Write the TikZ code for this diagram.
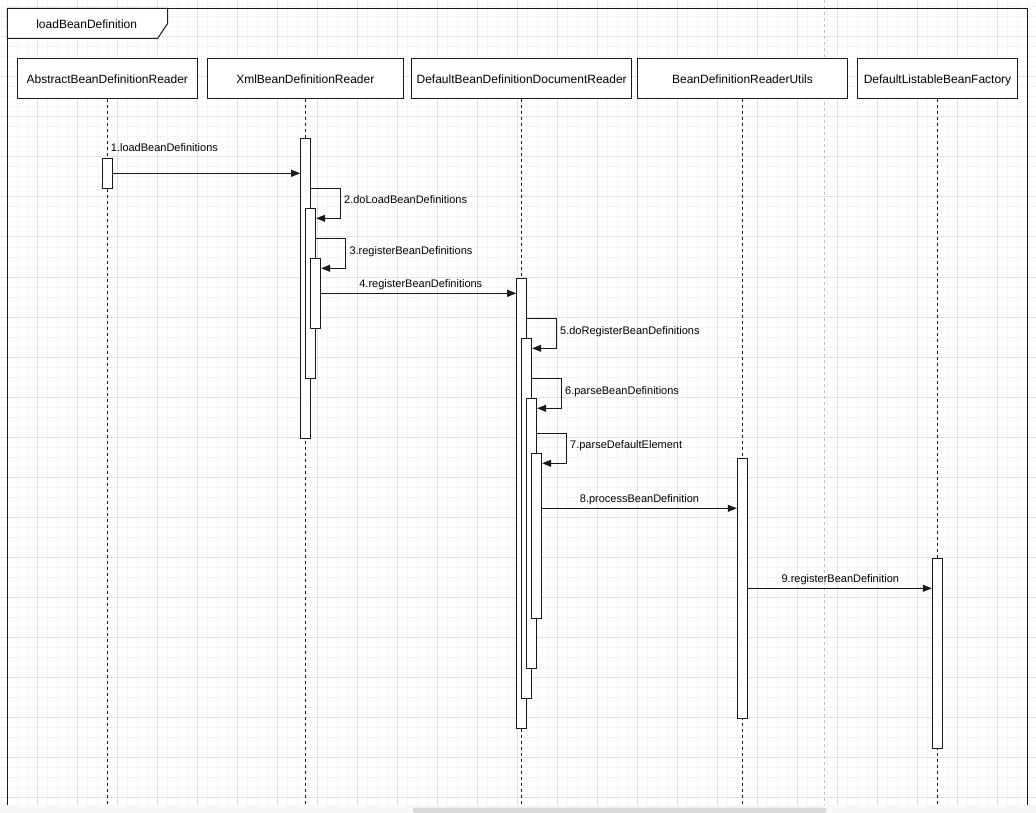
\documentclass[tikz,border=0pt]{standalone}
\usepackage{fontspec}
\setmainfont{Liberation Sans}
\usetikzlibrary{arrows.meta}
\definecolor{gridmaj}{HTML}{E2E2E2}
\definecolor{gridmin}{HTML}{F4F4F4}
\definecolor{pbreak}{HTML}{C0C0C0}
\definecolor{scrollbg}{HTML}{F8F8F8}
\definecolor{thumb}{HTML}{DADADA}
\definecolor{ink}{HTML}{1A1A1A}
\begin{document}
\begin{tikzpicture}[x=1pt,y=-1pt,
  part/.style={draw=ink, line width=1pt, fill=white, minimum height=40pt, inner sep=0pt,
    font=\fontsize{12}{14}\selectfont, text height=10pt, text depth=0pt},
  act/.style={draw=ink, line width=1pt, fill=white, minimum width=10pt, inner sep=0pt, anchor=north},
  life/.style={draw=ink, line width=1pt, dash pattern=on 3pt off 3pt},
  msg/.style={draw=ink, line width=1pt, -{Triangle[length=9pt,width=7pt]}},
  lbl/.style={font=\fontsize{11}{13}\selectfont, inner sep=0pt},
  minorline/.style={draw=gridmin, line width=1pt},
  majorline/.style={draw=gridmaj, line width=1pt},
]
\useasboundingbox (0,0) rectangle (1036,813);
\fill[white] (0,0) rectangle (1036,813);
% grid
\foreach \x in {7,17,...,1035} \draw[minorline] (\x,0) -- (\x,805);
\foreach \y in {7,17,...,804} \draw[minorline] (0,\y) -- (1036,\y);
\foreach \x in {37,77,...,1035} \draw[majorline] (\x,0) -- (\x,805);
\foreach \y in {37,77,...,804} \draw[majorline] (0,\y) -- (1036,\y);
% page break
\draw[pbreak, line width=1pt, dash pattern=on 3pt off 3pt] (824.3,0) -- (824.3,805);
% frame
\draw[ink, line width=1pt] (7.3,805) -- (7.3,8.3) -- (1027.7,8.3) -- (1027.7,805);
\draw[ink, line width=1pt, fill=white] (7.3,8.3) -- (167.7,8.3) -- (167.7,23.3) -- (157.7,38.3) -- (7.3,38.3) -- cycle;
\node[font=\fontsize{12}{14}\selectfont, inner sep=0pt, anchor=base] (frm) at (86.7,28.3) {loadBeanDefinition};
% participants
\node[part, minimum width=180pt] (p1) at (107.3,78.3) {AbstractBeanDefinitionReader};
\node[part, minimum width=196pt] (p2) at (305.3,78.3) {XmlBeanDefinitionReader};
\node[part, minimum width=220pt] (p3) at (521.7,78.3) {DefaultBeanDefinitionDocumentReader};
\node[part, minimum width=210pt] (p4) at (742.5,78.3) {BeanDefinitionReaderUtils};
\node[part, minimum width=160pt] (p5) at (937.5,78.3) {DefaultListableBeanFactory};
% lifelines
\draw[life] (p1.south) -- (p1.south |- 0,805);
\draw[life] (p2.south) -- (p2.south |- 0,805);
\draw[life] (p3.south) -- (p3.south |- 0,805);
\draw[life] (p4.south) -- (p4.south |- 0,805);
\draw[life] (p5.south) -- (p5.south |- 0,805);
% activations
\node[act, minimum height=30pt]  (aA) at (107.3,158.3) {};
\node[act, minimum height=300pt] (xA) at (305.7,138.3) {};
\node[act, minimum height=170pt] (xB) at (310.7,208.3) {};
\node[act, minimum height=70pt]  (xC) at (315.7,258.3) {};
\node[act, minimum height=450pt] (dA) at (521.7,278.3) {};
\node[act, minimum height=360pt] (dB) at (526.7,338.3) {};
\node[act, minimum height=270pt] (dC) at (531.7,398.3) {};
\node[act, minimum height=165pt] (dD) at (536.7,453.3) {};
\node[act, minimum height=260pt] (uA) at (742.3,458.3) {};
\node[act, minimum height=190pt] (fA) at (937.3,558.3) {};
% messages
\draw[msg] (aA.east |- 0,173.3) -- (xA.west |- 0,173.3);
\draw[msg] (xA.east |- 0,188.3) -- (340.7,188.3) -- (340.7,218.3) -- (xB.east |- 0,218.3);
\draw[msg] (xB.east |- 0,238.3) -- (345.7,238.3) -- (345.7,268.3) -- (xC.east |- 0,268.3);
\draw[msg] (xC.east |- 0,293.3) -- (dA.west |- 0,293.3);
\draw[msg] (dA.east |- 0,318.3) -- (556.7,318.3) -- (556.7,348.3) -- (dB.east |- 0,348.3);
\draw[msg] (dB.east |- 0,378.3) -- (561.7,378.3) -- (561.7,408.3) -- (dC.east |- 0,408.3);
\draw[msg] (dC.east |- 0,433.3) -- (566.7,433.3) -- (566.7,463.3) -- (dD.east |- 0,463.3);
\draw[msg] (dD.east |- 0,508.3) -- (uA.west |- 0,508.3);
\draw[msg] (uA.east |- 0,588.3) -- (fA.west |- 0,588.3);
% labels
\node[lbl, anchor=base west] (l1) at (110.7,151.2) {1.loadBeanDefinitions};
\node[lbl, anchor=base west] (l2) at (344,203.5) {2.doLoadBeanDefinitions};
\node[lbl, anchor=base west] (l3) at (349.3,254.5) {3.registerBeanDefinitions};
\node[lbl, anchor=base] (l4) at (420.8,287.5) {4.registerBeanDefinitions};
\node[lbl, anchor=base west] (l5) at (560,334.5) {5.doRegisterBeanDefinitions};
\node[lbl, anchor=base west] (l6) at (565,394.5) {6.parseBeanDefinitions};
\node[lbl, anchor=base west] (l7) at (570,448.5) {7.parseDefaultElement};
\node[lbl, anchor=base] (l8) at (639.5,502.8) {8.processBeanDefinition};
\node[lbl, anchor=base] (l9) at (840.3,582.5) {9.registerBeanDefinition};
% scrollbar
\fill[scrollbg] (0,805) rectangle (1036,813);
\fill[thumb, rounded corners=3pt] (412.3,807.7) rectangle (826.7,813);
\end{tikzpicture}
\end{document}
